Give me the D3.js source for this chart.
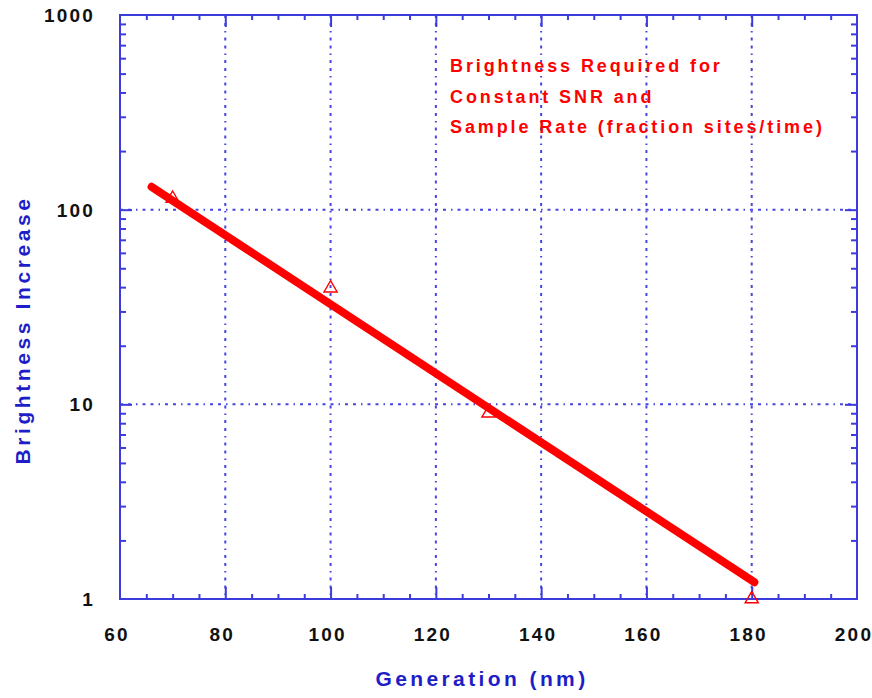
<!DOCTYPE html>
<html>
<head>
<meta charset="utf-8">
<script src="https://cdn.jsdelivr.net/npm/d3@7"></script>
<style>
  body { margin: 0; background: #fff; }
  text { font-family: "Liberation Sans", Arial, sans-serif; font-weight: bold; }
</style>
</head>
<body>
<svg id="chart" width="872" height="698"></svg>
<script>
// data
var xTicks = [60, 80, 100, 120, 140, 160, 180, 200],
    yTicks = [1, 10, 100, 1000],
    measured = [
      { gen: 70, bright: 114 },
      { gen: 100, bright: 39.5 },
      { gen: 130, bright: 9.0 },
      { gen: 180, bright: 1.0 }
    ],
    fitLine = [
      { gen: 66, bright: 131 },
      { gen: 180.5, bright: 1.22 }
    ],
    note = ['Brightness Required for', 'Constant SNR and', 'Sample Rate (fraction sites/time)'];

var svg = d3.select('#chart'),
    margin = { left: 120, top: 15, right: 15, bottom: 99 },
    width = +svg.attr('width') - margin.left - margin.right,
    height = +svg.attr('height') - margin.top - margin.bottom,
    axisBlue = '#3c3cdc',
    titleBlue = '#1e1ec8';

var x = d3.scaleLinear().domain([60, 200]).range([0, width]);
var y = d3.scaleLog().domain([1, 1000]).range([height, 0]);

var g = svg.append('g').attr('transform', 'translate(' + margin.left + ',' + margin.top + ')');

// grid lines (dash-dash-dot)
var grid = g.append('g').attr('class', 'grid')
    .attr('stroke', '#4646e0').attr('stroke-width', 2)
    .attr('stroke-dasharray', '3,5,3,5,1.5,5');
grid.selectAll('.gx')
    .data(xTicks.slice(1, -1))
    .enter().append('line')
    .attr('x1', function (d) { return x(d); })
    .attr('x2', function (d) { return x(d); })
    .attr('y1', 0).attr('y2', height);
grid.selectAll('.gy')
    .data(yTicks.slice(1, -1))
    .enter().append('line')
    .attr('y1', function (d) { return y(d); })
    .attr('y2', function (d) { return y(d); })
    .attr('x1', 0).attr('x2', width);

// ticks on all four sides, pointing inward
var xMinor = d3.range(60, 200, 5).filter(function (d) { return d % 20 !== 0; });
var yMinor = [];
[1, 10, 100].forEach(function (dec) {
	for (var k = 2; k < 10; k++) { yMinor.push(dec * k); }
});

function addAxis(axis, len) {
	var a = g.append('g').call(axis.tickSize(-len).tickFormat(''));
	a.select('.domain').remove();
	a.selectAll('.tick line').attr('stroke', axisBlue).attr('stroke-width', 2);
	return a;
}
addAxis(d3.axisBottom(x).tickValues(xTicks.slice(1, -1)), 12).attr('transform', 'translate(0,' + height + ')');
addAxis(d3.axisBottom(x).tickValues(xMinor), 5).attr('transform', 'translate(0,' + height + ')');
addAxis(d3.axisTop(x).tickValues(xTicks.slice(1, -1)), 12);
addAxis(d3.axisTop(x).tickValues(xMinor), 5);
addAxis(d3.axisLeft(y).tickValues(yTicks.slice(1, -1)), 12);
addAxis(d3.axisLeft(y).tickValues(yMinor), 6);
addAxis(d3.axisRight(y).tickValues(yTicks.slice(1, -1)), 12).attr('transform', 'translate(' + width + ',0)');
addAxis(d3.axisRight(y).tickValues(yMinor), 6).attr('transform', 'translate(' + width + ',0)');

// frame
g.append('rect')
    .attr('width', width).attr('height', height)
    .attr('fill', 'none').attr('stroke', axisBlue).attr('stroke-width', 2);

// tick labels
g.selectAll('.xl')
    .data(xTicks)
    .enter().append('text')
    .attr('x', function (d) { return x(d) - 3; })
    .attr('y', height + 42)
    .attr('text-anchor', 'middle')
    .attr('font-size', 19).attr('letter-spacing', 2.2).attr('fill', '#111')
    .text(function (d) { return d; });
g.selectAll('.yl')
    .data(yTicks)
    .enter().append('text')
    .attr('x', -25)
    .attr('y', function (d) { return y(d) + 7; })
    .attr('text-anchor', 'end')
    .attr('font-size', 19).attr('letter-spacing', 2.2).attr('fill', '#111')
    .text(function (d) { return d; });

// axis titles
svg.append('text')
    .attr('x', 482).attr('y', 686)
    .attr('text-anchor', 'middle')
    .attr('font-size', 21).attr('letter-spacing', 3.4).attr('fill', titleBlue)
    .text('Generation (nm)');
svg.append('text')
    .attr('transform', 'translate(30,330) rotate(-90)')
    .attr('text-anchor', 'middle')
    .attr('font-size', 21).attr('letter-spacing', 3.6).attr('fill', titleBlue)
    .text('Brightness Increase');

// fitted line
var line = d3.line()
    .x(function (d) { return x(d.gen); })
    .y(function (d) { return y(d.bright); });
g.append('path')
    .datum(fitLine)
    .attr('d', line)
    .attr('fill', 'none').attr('stroke', '#ff0000')
    .attr('stroke-width', 8).attr('stroke-linecap', 'round');

// measured points: hollow triangles
var tri = d3.symbol().type(d3.symbolTriangle).size(75);
g.selectAll('.pt')
    .data(measured)
    .enter().append('path')
    .attr('d', tri)
    .attr('transform', function (d) { return 'translate(' + x(d.gen) + ',' + y(d.bright) + ')'; })
    .attr('fill', 'none').attr('stroke', '#ff0000').attr('stroke-width', 1.4);

// annotation
g.append('g').selectAll('text')
    .data(note)
    .enter().append('text')
    .attr('x', 330)
    .attr('y', function (d, i) { return 57 + i * 30.5; })
    .attr('font-size', 18).attr('letter-spacing', 2.9).attr('fill', '#ff0000')
    .text(function (d) { return d; });
</script>
</body>
</html>
